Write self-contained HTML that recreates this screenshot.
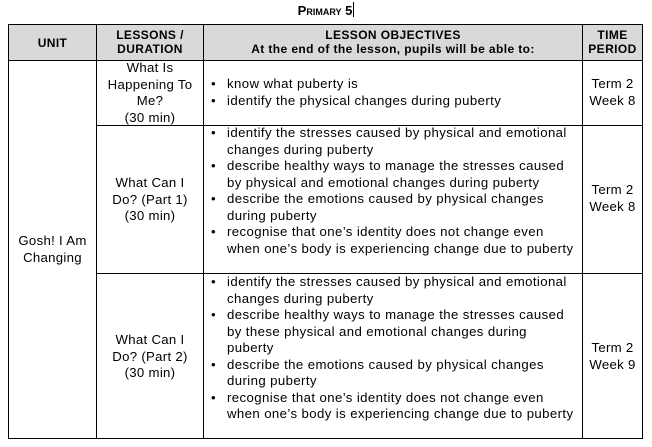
<!DOCTYPE html>
<html><head><style>
body{margin:0;width:652px;height:447px;background:#fff;font-family:"Liberation Sans",Arial,sans-serif;color:#000;position:relative;overflow:hidden}
.a{position:absolute}
.l{position:absolute;background:#000}
.h{position:absolute;font-weight:bold;font-size:12px;letter-spacing:0.4px;text-align:center;line-height:14px}
.c{position:absolute;font-size:13.2px;letter-spacing:0.3px;line-height:16.5px;text-align:center}
ul{margin:0;padding:0;list-style:none;white-space:nowrap}
li{position:relative;padding-left:23px;font-size:13.2px;letter-spacing:0.4px;line-height:16.5px}
li:before{content:"•";position:absolute;left:7px;top:0}
</style></head><body>
<div class="a" style="left:0;width:652px;top:2px;text-align:center;font-weight:bold;font-size:13px;font-variant:small-caps">Primary 5<span style="display:inline-block;width:1px;height:15px;background:#000;vertical-align:-2px;margin-left:1px"></span></div>
<div class="a" style="left:9px;top:24px;width:633px;height:36px;background:#d9d9d9"></div>
<div class="l" style="left:8px;top:24px;width:635px;height:1px"></div>
<div class="l" style="left:8px;top:60px;width:635px;height:1px"></div>
<div class="l" style="left:96px;top:125px;width:547px;height:1px"></div>
<div class="l" style="left:96px;top:273px;width:547px;height:1px"></div>
<div class="l" style="left:8px;top:438px;width:635px;height:1px"></div>
<div class="l" style="left:8px;top:24px;width:1px;height:415px"></div>
<div class="l" style="left:96px;top:24px;width:1px;height:415px"></div>
<div class="l" style="left:203px;top:24px;width:1px;height:415px"></div>
<div class="l" style="left:582px;top:24px;width:1px;height:415px"></div>
<div class="l" style="left:642px;top:24px;width:1px;height:415px"></div>
<div class="h" style="left:9px;width:87px;top:36px">UNIT</div>
<div class="h" style="left:97px;width:106px;top:28px">LESSONS /<br>DURATION</div>
<div class="h" style="left:204px;width:378px;top:28px">LESSON OBJECTIVES<br>At the end of the lesson, pupils will be able to:</div>
<div class="h" style="left:583px;width:59px;top:28px">TIME<br>PERIOD</div>
<div class="c" style="left:9px;width:87px;top:233px">Gosh! I Am<br>Changing</div>
<div class="c" style="left:97px;width:106px;top:60px">What Is<br>Happening To<br>Me?<br>(30 min)</div>
<ul class="a" style="left:204px;top:76px;width:378px"><li>know what puberty is</li><li>identify the physical changes during puberty</li></ul>
<div class="c" style="left:583px;width:59px;top:76px">Term 2<br>Week 8</div>
<div class="c" style="left:97px;width:106px;top:175px">What Can I<br>Do? (Part 1)<br>(30 min)</div>
<ul class="a" style="left:204px;top:125px;width:374px"><li>identify the stresses caused by physical and emotional<br>changes during puberty</li><li>describe healthy ways to manage the stresses caused<br>by physical and emotional changes during puberty</li><li>describe the emotions caused by physical changes<br>during puberty</li><li>recognise that one’s identity does not change even<br>when one’s body is experiencing change due to puberty</li></ul>
<div class="c" style="left:583px;width:59px;top:182px">Term 2<br>Week 8</div>
<div class="c" style="left:97px;width:106px;top:332px">What Can I<br>Do? (Part 2)<br>(30 min)</div>
<ul class="a" style="left:204px;top:274px;width:374px"><li>identify the stresses caused by physical and emotional<br>changes during puberty</li><li>describe healthy ways to manage the stresses caused<br>by these physical and emotional changes during<br>puberty</li><li>describe the emotions caused by physical changes<br>during puberty</li><li>recognise that one’s identity does not change even<br>when one’s body is experiencing change due to puberty</li></ul>
<div class="c" style="left:583px;width:59px;top:340px">Term 2<br>Week 9</div>
</body></html>
